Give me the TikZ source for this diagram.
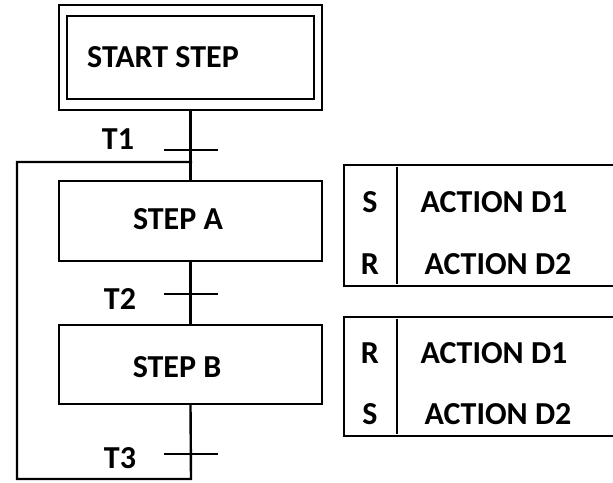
\documentclass[tikz,border=0pt]{standalone}
\usepackage{fontspec}
\setmainfont{Carlito}
\begin{document}
\begin{tikzpicture}[x=0.75pt,y=-0.75pt,
  line/.style={line width=1.8pt, line cap=rect},
  box/.style={draw, line width=1.8pt, inner sep=0pt},
  lbl/.style={inner sep=0pt, font=\fontsize{24}{28}\selectfont\bfseries},
  tick/.style={line width=1.8pt}]
\useasboundingbox (0,0) rectangle (613,482);
% steps
\node[box, minimum width=263*0.75pt, minimum height=105*0.75pt] (startout) at (190.5,57.5) {};
\node[box, minimum width=247*0.75pt, minimum height=83*0.75pt] (start) at (190.5,57.5) {};
\node[box, minimum width=263*0.75pt, minimum height=80*0.75pt] (A) at (190.5,221) {};
\node[box, minimum width=263*0.75pt, minimum height=79*0.75pt] (B) at (190.5,364.5) {};
\node[lbl] (tstart) at (163,57.5) {START STEP};
\node[lbl] (tA) at (178,219) {STEP A};
\node[lbl] (tB) at (177,367) {STEP B};
% connectors
\coordinate (t1) at (191,150);
\coordinate (t2) at (191,294);
\coordinate (t3) at (191,454);
\coordinate (lb) at (191,479);
\coordinate (lt) at (191,162);
\draw[line] (startout.south) -- (A.north);
\draw[line] (A.south) -- (B.north);
\draw[line] (B.south) -- (lb) -| (17,162) -- (lt);
\draw[tick] ([xshift=-27*0.75pt]t1) -- ([xshift=27*0.75pt]t1);
\draw[tick] ([xshift=-27*0.75pt]t2) -- ([xshift=27*0.75pt]t2);
\draw[tick] ([xshift=-27*0.75pt]t3) -- ([xshift=27*0.75pt]t3);
\node[lbl] (T1) at (118,139) {T1};
\node[lbl] (T2) at (120,299) {T2};
\node[lbl] (T3) at (120,458) {T3};
% action boxes
\draw[line, line cap=butt] (613,165) -| (344,286) -- (613,286);
\draw[line] (397,168) -- (397,283);
\draw[line, line cap=butt] (613,317) -| (344,436) -- (613,436);
\draw[line] (397,320) -- (397,433);
\node[lbl] (s1) at (370,202) {S};
\node[lbl] (a1) at (494,202) {ACTION D1};
\node[lbl] (r1) at (370,264) {R};
\node[lbl] (a2) at (498,264) {ACTION D2};
\node[lbl] (r2) at (370,353) {R};
\node[lbl] (a3) at (494,353) {ACTION D1};
\node[lbl] (s2) at (370,414) {S};
\node[lbl] (a4) at (498,414) {ACTION D2};
\end{tikzpicture}
\end{document}
